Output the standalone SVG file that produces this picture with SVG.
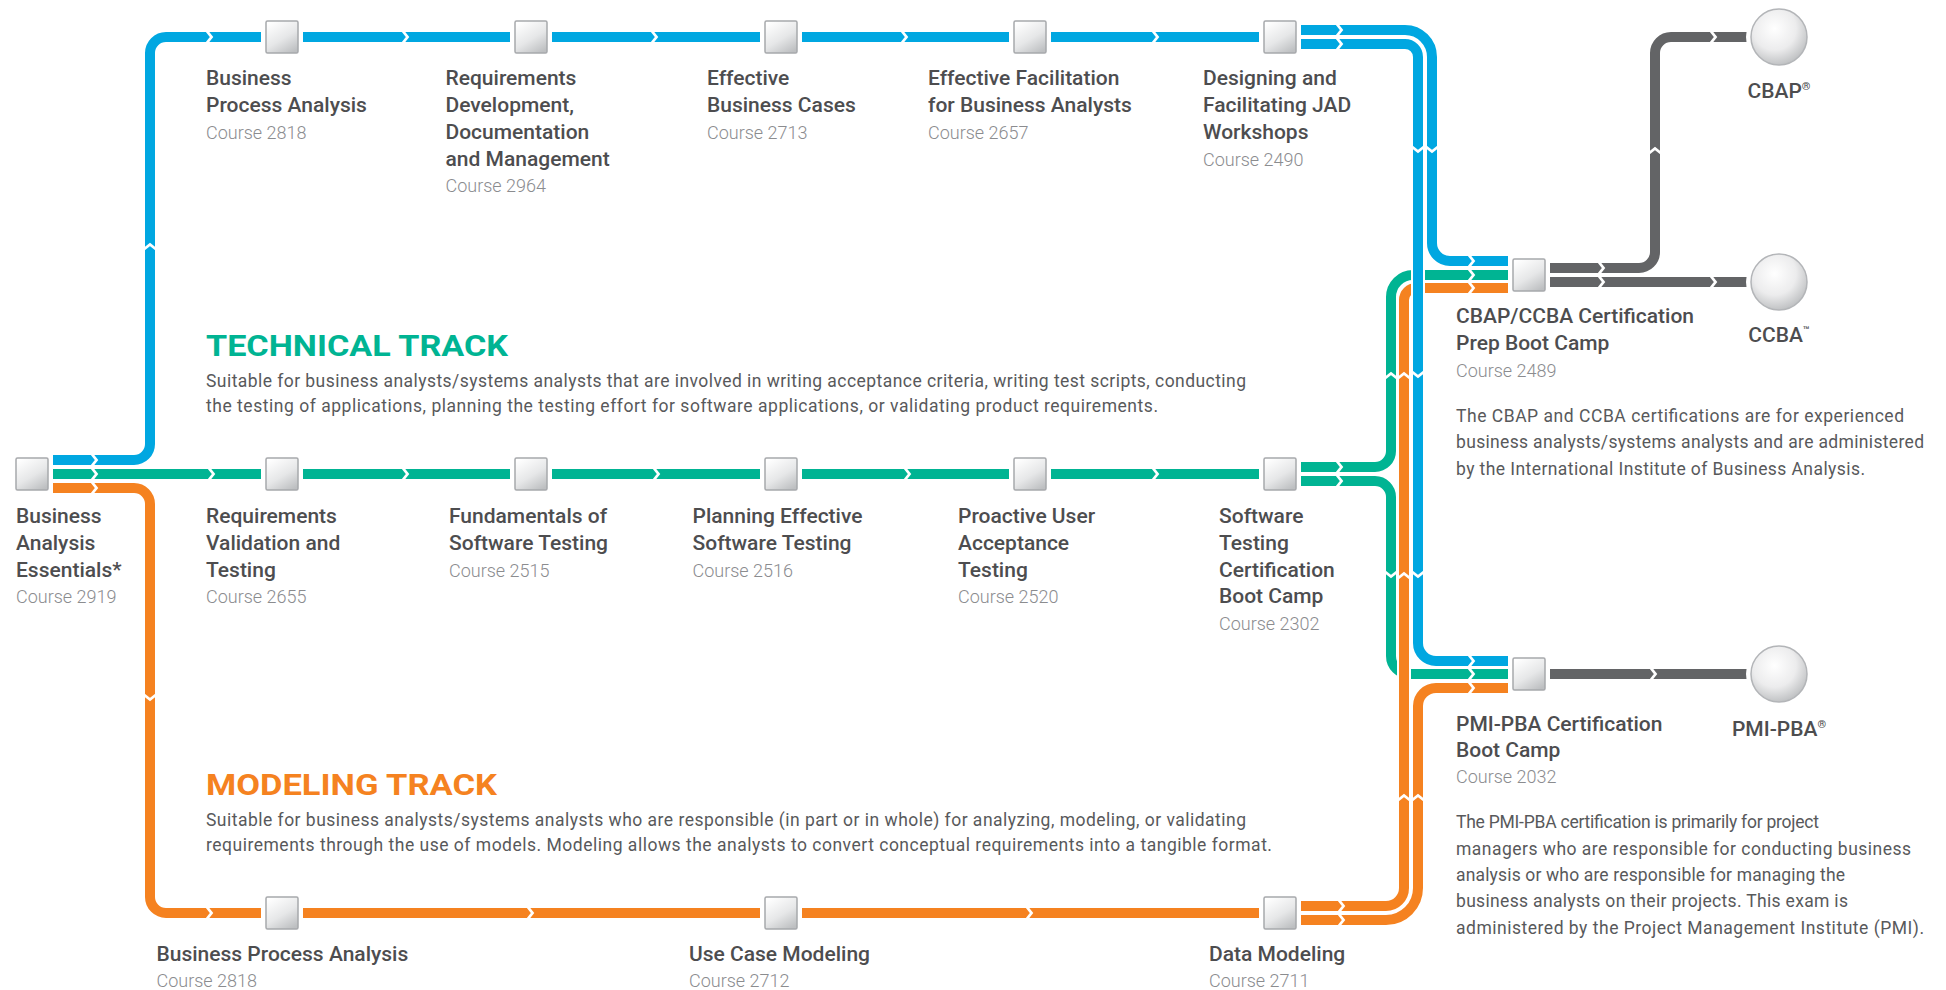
<svg xmlns="http://www.w3.org/2000/svg" xmlns:xlink="http://www.w3.org/1999/xlink" width="1946" height="990" viewBox="0 0 1946 990">
<defs>
<linearGradient id="ng" x1="0.2" y1="0" x2="0.8" y2="1">
<stop offset="0" stop-color="#ffffff"/><stop offset="0.55" stop-color="#e6e7e8"/><stop offset="1" stop-color="#bdbfc1"/>
</linearGradient>
<radialGradient id="cg" cx="0.42" cy="0.35" r="0.7">
<stop offset="0" stop-color="#ffffff"/><stop offset="0.55" stop-color="#ececed"/><stop offset="1" stop-color="#b9bbbd"/>
</radialGradient>
<path id="chR" d="M-4,-7 L1.5,0 L-4,7"/>
</defs>
<style>
.case{fill:none;stroke:#ffffff;stroke-width:14}
.ln{fill:none;stroke-width:10}
.b{stroke:#00a7e1}.g{stroke:#00b493}.o{stroke:#f58220}.k{stroke:#636466}
.ch{fill:none;stroke:#ffffff;stroke-width:2.8;stroke-linejoin:miter}
.nb{fill:#ffffff}
.nd{fill:url(#ng);stroke:#a7a9ac;stroke-width:1.5}
.ci{fill:url(#cg);stroke:#b3b5b8;stroke-width:1.5}
.t{font-family:Roboto,"Liberation Sans",Arial,sans-serif;font-weight:500;font-size:21px;fill:#4d4d4f}
.c{font-family:Roboto,"Liberation Sans",Arial,sans-serif;font-weight:300;font-size:18px;fill:#8b8c8f}
.d{font-family:Roboto,"Liberation Sans",Arial,sans-serif;font-size:17.5px;fill:#58595b}
.h{font-family:Roboto,"Liberation Sans",Arial,sans-serif;font-weight:bold;font-size:30px}
.sup{font-size:11px}
</style>

<g id="connectors">
<path class="case" d="M1547 268 H1639 A16 16 0 0 0 1655 252 V53 A16 16 0 0 1 1671 37 H1749"/>
<path class="ln k" d="M1547 268 H1639 A16 16 0 0 0 1655 252 V53 A16 16 0 0 1 1671 37 H1749"/>
<path class="case" d="M1547 282 H1749"/><path class="ln k" d="M1547 282 H1749"/>
<path class="case" d="M1547 674 H1749"/><path class="ln k" d="M1547 674 H1749"/>

<path class="case" d="M52 474 H1262"/><path class="ln g" d="M52 474 H1262"/>
<path class="case" d="M52 488 H134 A16 16 0 0 1 150 504 V897 A16 16 0 0 0 166 913 H1262"/>
<path class="ln o" d="M52 488 H134 A16 16 0 0 1 150 504 V897 A16 16 0 0 0 166 913 H1262"/>
<path class="case" d="M52 460 H134 A16 16 0 0 0 150 444 V53 A16 16 0 0 1 166 37 H1262"/>
<path class="ln b" d="M52 460 H134 A16 16 0 0 0 150 444 V53 A16 16 0 0 1 166 37 H1262"/>

<path class="case" d="M1298 467 H1375 A16 16 0 0 0 1391 451 V297 A22 22 0 0 1 1413 275 H1511"/>
<path class="ln g" d="M1298 467 H1375 A16 16 0 0 0 1391 451 V297 A22 22 0 0 1 1413 275 H1511"/>
<path class="case" d="M1298 481 H1375 A16 16 0 0 1 1391 497 V656 A18 18 0 0 0 1409 674 H1511"/>
<path class="ln g" d="M1298 481 H1375 A16 16 0 0 1 1391 497 V656 A18 18 0 0 0 1409 674 H1511"/>
<path class="case" d="M1298 906 H1386 A18 18 0 0 0 1404 888 V300 A12 12 0 0 1 1416 288 H1511"/>
<path class="ln o" d="M1298 906 H1386 A18 18 0 0 0 1404 888 V300 A12 12 0 0 1 1416 288 H1511"/>
<path class="case" d="M1298 920 H1386 A32 32 0 0 0 1418 888 V706 A18 18 0 0 1 1436 688 H1511"/>
<path class="ln o" d="M1298 920 H1386 A32 32 0 0 0 1418 888 V706 A18 18 0 0 1 1436 688 H1511"/>
<path class="case" d="M1298 30 H1405 A27 27 0 0 1 1432 57 V243 A18 18 0 0 0 1450 261 H1511"/>
<path class="ln b" d="M1298 30 H1405 A27 27 0 0 1 1432 57 V243 A18 18 0 0 0 1450 261 H1511"/>
<path class="case" d="M1298 44 H1405 A13 13 0 0 1 1418 57 V643 A18 18 0 0 0 1436 661 H1511"/>
<path class="ln b" d="M1298 44 H1405 A13 13 0 0 1 1418 57 V643 A18 18 0 0 0 1436 661 H1511"/>

<g class="ch">
<use xlink:href="#chR" transform="translate(95,460)"/><use xlink:href="#chR" transform="translate(95,474)"/><use xlink:href="#chR" transform="translate(95,488)"/>
<use xlink:href="#chR" transform="translate(210,37)"/><use xlink:href="#chR" transform="translate(406,37)"/><use xlink:href="#chR" transform="translate(655,37)"/><use xlink:href="#chR" transform="translate(905,37)"/><use xlink:href="#chR" transform="translate(1156,37)"/>
<use xlink:href="#chR" transform="translate(212,474)"/><use xlink:href="#chR" transform="translate(406,474)"/><use xlink:href="#chR" transform="translate(657,474)"/><use xlink:href="#chR" transform="translate(908,474)"/><use xlink:href="#chR" transform="translate(1156,474)"/>
<use xlink:href="#chR" transform="translate(210,913)"/><use xlink:href="#chR" transform="translate(531,913)"/><use xlink:href="#chR" transform="translate(1030,913)"/>
<use xlink:href="#chR" transform="translate(1340,30)"/><use xlink:href="#chR" transform="translate(1340,44)"/>
<use xlink:href="#chR" transform="translate(1340,467)"/><use xlink:href="#chR" transform="translate(1340,481)"/>
<use xlink:href="#chR" transform="translate(1342,906)"/><use xlink:href="#chR" transform="translate(1342,920)"/>
<use xlink:href="#chR" transform="translate(1472,261)"/><use xlink:href="#chR" transform="translate(1472,275)"/><use xlink:href="#chR" transform="translate(1472,288)"/>
<use xlink:href="#chR" transform="translate(1472,661)"/><use xlink:href="#chR" transform="translate(1472,674)"/><use xlink:href="#chR" transform="translate(1472,688)"/>
<use xlink:href="#chR" transform="translate(1602,268)"/><use xlink:href="#chR" transform="translate(1602,282)"/>
<use xlink:href="#chR" transform="translate(1714,37)"/><use xlink:href="#chR" transform="translate(1714,282)"/>
<use xlink:href="#chR" transform="translate(1654,674)"/>
<use xlink:href="#chR" transform="translate(150,246) rotate(-90)"/>
<use xlink:href="#chR" transform="translate(150,698) rotate(90)"/>
<use xlink:href="#chR" transform="translate(1432,150) rotate(90)"/><use xlink:href="#chR" transform="translate(1418,150) rotate(90)"/>
<use xlink:href="#chR" transform="translate(1391,375) rotate(-90)"/><use xlink:href="#chR" transform="translate(1404,375) rotate(-90)"/><use xlink:href="#chR" transform="translate(1418,375) rotate(90)"/>
<use xlink:href="#chR" transform="translate(1391,575) rotate(90)"/><use xlink:href="#chR" transform="translate(1404,575) rotate(-90)"/><use xlink:href="#chR" transform="translate(1418,575) rotate(90)"/>
<use xlink:href="#chR" transform="translate(1404,797) rotate(-90)"/><use xlink:href="#chR" transform="translate(1418,797) rotate(-90)"/>
<use xlink:href="#chR" transform="translate(1655,150) rotate(-90)"/>
</g>
</g>

<g id="n-bae"><rect class="nb" x="11" y="453" width="42" height="42"/><rect class="nd" x="16" y="458" width="32" height="32" rx="1.5"/>
<text class="t" x="16" y="523">Business</text><text class="t" x="16" y="550">Analysis</text><text class="t" x="16" y="577">Essentials*</text><text class="c" x="16" y="603">Course 2919</text></g>

<g id="n-bpa1"><rect class="nb" x="261" y="16" width="42" height="42"/><rect class="nd" x="266" y="21" width="32" height="32" rx="1.5"/>
<text class="t" x="206" y="85">Business</text><text class="t" x="206" y="112">Process Analysis</text><text class="c" x="206" y="139">Course 2818</text></g>
<g id="n-rdm"><rect class="nb" x="510" y="16" width="42" height="42"/><rect class="nd" x="515" y="21" width="32" height="32" rx="1.5"/>
<text class="t" x="445.5" y="85">Requirements</text><text class="t" x="445.5" y="112">Development,</text><text class="t" x="445.5" y="139">Documentation</text><text class="t" x="445.5" y="166">and Management</text><text class="c" x="445.5" y="192">Course 2964</text></g>
<g id="n-ebc"><rect class="nb" x="760" y="16" width="42" height="42"/><rect class="nd" x="765" y="21" width="32" height="32" rx="1.5"/>
<text class="t" x="707" y="85">Effective</text><text class="t" x="707" y="112">Business Cases</text><text class="c" x="707" y="139">Course 2713</text></g>
<g id="n-efba"><rect class="nb" x="1009" y="16" width="42" height="42"/><rect class="nd" x="1014" y="21" width="32" height="32" rx="1.5"/>
<text class="t" x="928" y="85">Effective Facilitation</text><text class="t" x="928" y="112">for Business Analysts</text><text class="c" x="928" y="139">Course 2657</text></g>
<g id="n-jad"><rect class="nb" x="1259" y="16" width="42" height="42"/><rect class="nd" x="1264" y="21" width="32" height="32" rx="1.5"/>
<text class="t" x="1203" y="85">Designing and</text><text class="t" x="1203" y="112">Facilitating JAD</text><text class="t" x="1203" y="139">Workshops</text><text class="c" x="1203" y="166">Course 2490</text></g>

<g id="n-rvt"><rect class="nb" x="261" y="453" width="42" height="42"/><rect class="nd" x="266" y="458" width="32" height="32" rx="1.5"/>
<text class="t" x="206" y="523">Requirements</text><text class="t" x="206" y="550">Validation and</text><text class="t" x="206" y="577">Testing</text><text class="c" x="206" y="603">Course 2655</text></g>
<g id="n-fst"><rect class="nb" x="510" y="453" width="42" height="42"/><rect class="nd" x="515" y="458" width="32" height="32" rx="1.5"/>
<text class="t" x="449" y="523">Fundamentals of</text><text class="t" x="449" y="550">Software Testing</text><text class="c" x="449" y="577">Course 2515</text></g>
<g id="n-pest"><rect class="nb" x="760" y="453" width="42" height="42"/><rect class="nd" x="765" y="458" width="32" height="32" rx="1.5"/>
<text class="t" x="692.5" y="523">Planning Effective</text><text class="t" x="692.5" y="550">Software Testing</text><text class="c" x="692.5" y="577">Course 2516</text></g>
<g id="n-puat"><rect class="nb" x="1009" y="453" width="42" height="42"/><rect class="nd" x="1014" y="458" width="32" height="32" rx="1.5"/>
<text class="t" x="958" y="523">Proactive User</text><text class="t" x="958" y="550">Acceptance</text><text class="t" x="958" y="577">Testing</text><text class="c" x="958" y="603">Course 2520</text></g>
<g id="n-stc"><rect class="nb" x="1259" y="453" width="42" height="42"/><rect class="nd" x="1264" y="458" width="32" height="32" rx="1.5"/>
<text class="t" x="1219" y="523">Software</text><text class="t" x="1219" y="550">Testing</text><text class="t" x="1219" y="577">Certification</text><text class="t" x="1219" y="603">Boot Camp</text><text class="c" x="1219" y="630">Course 2302</text></g>

<g id="n-bpa2"><rect class="nb" x="261" y="892" width="42" height="42"/><rect class="nd" x="266" y="897" width="32" height="32" rx="1.5"/>
<text class="t" x="156.5" y="961">Business Process Analysis</text><text class="c" x="156.5" y="987">Course 2818</text></g>
<g id="n-ucm"><rect class="nb" x="760" y="892" width="42" height="42"/><rect class="nd" x="765" y="897" width="32" height="32" rx="1.5"/>
<text class="t" x="689" y="961">Use Case Modeling</text><text class="c" x="689" y="987">Course 2712</text></g>
<g id="n-dm"><rect class="nb" x="1259" y="892" width="42" height="42"/><rect class="nd" x="1264" y="897" width="32" height="32" rx="1.5"/>
<text class="t" x="1209" y="961">Data Modeling</text><text class="c" x="1209" y="987">Course 2711</text></g>

<g id="n-cbapprep"><rect class="nb" x="1508" y="254" width="42" height="42"/><rect class="nd" x="1513" y="259" width="32" height="32" rx="1.5"/>
<text class="t" x="1456" y="323">CBAP/CCBA Certification</text><text class="t" x="1456" y="350">Prep Boot Camp</text><text class="c" x="1456" y="377">Course 2489</text>
<text class="d" x="1456" y="422" textLength="448" lengthAdjust="spacing">The CBAP and CCBA certifications are for experienced</text>
<text class="d" x="1456" y="448" textLength="468" lengthAdjust="spacing">business analysts/systems analysts and are administered</text>
<text class="d" x="1456" y="475" textLength="409" lengthAdjust="spacing">by the International Institute of Business Analysis.</text></g>
<g id="n-pmiboot"><rect class="nb" x="1508" y="653" width="42" height="42"/><rect class="nd" x="1513" y="658" width="32" height="32" rx="1.5"/>
<text class="t" x="1456" y="731">PMI-PBA Certification</text><text class="t" x="1456" y="757">Boot Camp</text><text class="c" x="1456" y="783">Course 2032</text>
<text class="d" x="1456" y="828" textLength="363" lengthAdjust="spacing">The PMI-PBA certification is primarily for project</text>
<text class="d" x="1456" y="855" textLength="455" lengthAdjust="spacing">managers who are responsible for conducting business</text>
<text class="d" x="1456" y="881" textLength="389" lengthAdjust="spacing">analysis or who are responsible for managing the</text>
<text class="d" x="1456" y="907" textLength="392" lengthAdjust="spacing">business analysts on their projects. This exam is</text>
<text class="d" x="1456" y="934" textLength="468" lengthAdjust="spacing">administered by the Project Management Institute (PMI).</text></g>

<g id="n-cbap"><circle class="nb" cx="1779" cy="37" r="33"/><circle class="ci" cx="1779" cy="37" r="28"/>
<text class="t" x="1779" y="98" text-anchor="middle">CBAP<tspan class="sup" dy="-8">®</tspan></text></g>
<g id="n-ccba"><circle class="nb" cx="1779" cy="282" r="33"/><circle class="ci" cx="1779" cy="282" r="28"/>
<text class="t" x="1779" y="342" text-anchor="middle">CCBA<tspan class="sup" dy="-8">™</tspan></text></g>
<g id="n-pmipba"><circle class="nb" cx="1779" cy="674" r="33"/><circle class="ci" cx="1779" cy="674" r="28"/>
<text class="t" x="1779" y="736" text-anchor="middle">PMI-PBA<tspan class="sup" dy="-8">®</tspan></text></g>

<g id="technical-track">
<text class="h" x="206" y="356" fill="#00b493" textLength="302" lengthAdjust="spacingAndGlyphs">TECHNICAL TRACK</text>
<text class="d" x="206" y="387" textLength="1040" lengthAdjust="spacing">Suitable for business analysts/systems analysts that are involved in writing acceptance criteria, writing test scripts, conducting</text>
<text class="d" x="206" y="412" textLength="952" lengthAdjust="spacing">the testing of applications, planning the testing effort for software applications, or validating product requirements.</text>
</g>
<g id="modeling-track">
<text class="h" x="206" y="795" fill="#f58220" textLength="291" lengthAdjust="spacingAndGlyphs">MODELING TRACK</text>
<text class="d" x="206" y="826" textLength="1040" lengthAdjust="spacing">Suitable for business analysts/systems analysts who are responsible (in part or in whole) for analyzing, modeling, or validating</text>
<text class="d" x="206" y="851" textLength="1066" lengthAdjust="spacing">requirements through the use of models. Modeling allows the analysts to convert conceptual requirements into a tangible format.</text>
</g>
</svg>
